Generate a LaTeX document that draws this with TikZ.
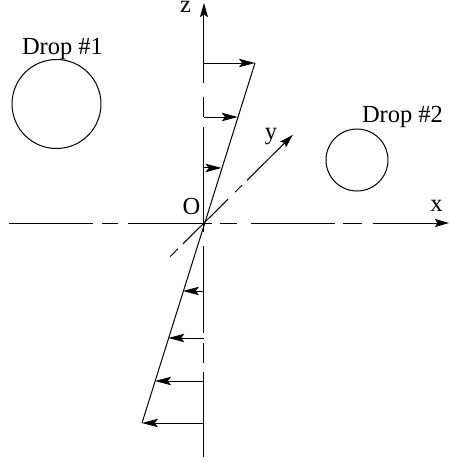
\documentclass[tikz,border=0pt]{standalone}
\usepackage{fontspec}
\setmainfont{Liberation Serif}
\usetikzlibrary{arrows.meta,calc}
\begin{document}
\begin{tikzpicture}[x=0.5pt,y=-0.5pt,line width=0.5pt,
  lbl/.style={inner sep=0pt,anchor=base,font=\fontsize{12.25}{14}\selectfont},
  axisarrow/.style={-{Stealth[length=7pt,width=4pt,inset=1.2pt]}},
  vel/.style={-{Stealth[length=8pt,width=4.2pt,inset=1.6pt]}},
  drop/.style={draw,circle,inner sep=0pt}]
\useasboundingbox (0,0) rectangle (450,463);
% drops
\node[drop,minimum size=44.5pt] (drop1) at (56.5,104) {};
\node[drop,minimum size=31pt] (drop2) at (357,160) {};
% labels
\node[lbl] (d1lbl) at (62.5,54) {Drop \#1};
\node[lbl] (d2lbl) at (402.5,122) {Drop \#2};
\node[lbl] (zlbl) at (185.5,12) {z};
\node[lbl] (ylbl) at (271,139) {y};
\node[lbl] (olbl) at (191.5,214) {O};
\node[lbl] (xlbl) at (436.5,211) {x};
% key points
\coordinate (O) at (204,223);
\coordinate (ptop) at (255,63);
\coordinate (pbot) at (142,423);
\coordinate (xend) at (449,223);
\coordinate (zend) at (204,3);
\coordinate (yend) at (293,134.7);
% x axis (dash-dot)
\draw (9,223)--(93,223) (102,223)--(118,223) (128,223)--(212,223)
      (220,223)--(237,223) (251,223)--(335,223) (343,223)--(362,223);
\draw[axisarrow] (373,223) -- (xend);
% z axis (dash-dot)
\draw (204,457)--(204,372) (204,363)--(204,343) (204,333)--(204,246)
      (204,232)--(204,127) (204,117)--(204,97);
\draw[axisarrow] (204,83) -- (zend);
% y axis (diagonal, dashed)
\draw (170,256.7)--(178,248.8) (183,243.8)--(228,199.2) (235,192.2)--(242,185.3);
\draw[axisarrow] (247,180.3) -- (yend);
% velocity profile
\draw (ptop) -- (pbot);
\foreach \t [count=\i] in {1,0.6625,0.344}{
  \coordinate (u\i) at ($(O)!\t!(ptop)$);
  \draw[vel] (O |- u\i) -- (u\i);
}
\foreach \t [count=\i] in {0.34,0.575,0.79,1}{
  \coordinate (l\i) at ($(O)!\t!(pbot)$);
  \draw[vel] (O |- l\i) -- (l\i);
}
\end{tikzpicture}
\end{document}
